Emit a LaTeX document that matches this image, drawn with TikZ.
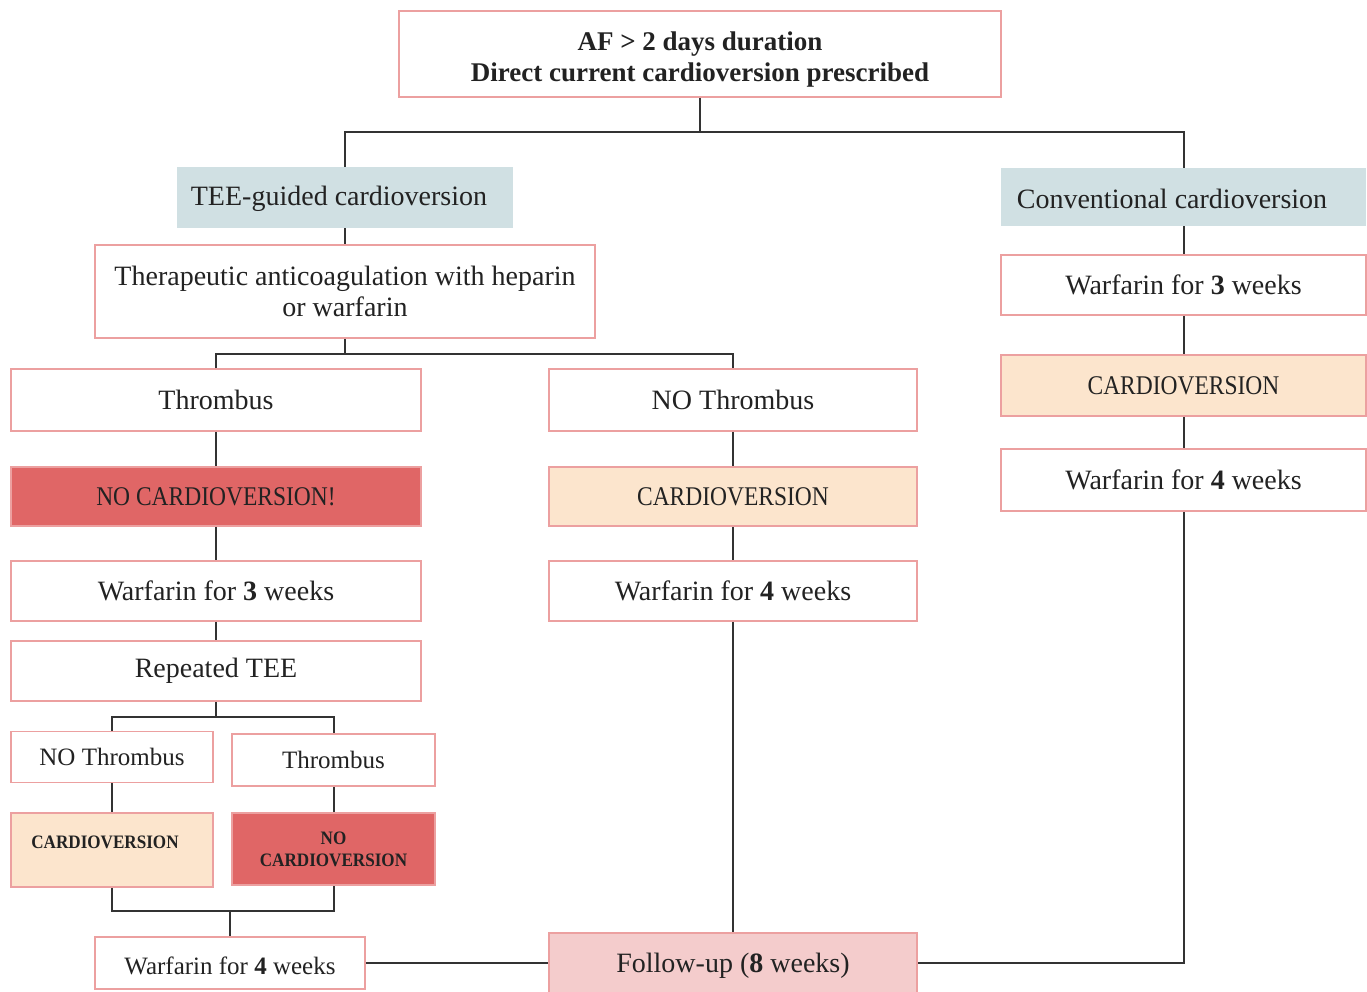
\documentclass[tikz,border=0pt]{standalone}
\usepackage{graphicx}
\usepackage{fontspec}
\setmainfont{Liberation Serif}
\definecolor{bordpink}{RGB}{236,160,160}
\definecolor{redfill}{RGB}{224,102,102}
\definecolor{peach}{RGB}{252,229,205}
\definecolor{fupink}{RGB}{244,204,204}
\definecolor{bluegrey}{RGB}{208,224,227}
\definecolor{linegrey}{RGB}{51,51,51}
\definecolor{txt}{RGB}{34,34,34}
\newcommand{\capstext}[1]{\scalebox{0.87}[1]{#1}}
\newcommand{\smallcaps}[1]{\scalebox{0.9}[1]{#1}}
\tikzset{
  base/.style={rectangle, inner sep=0pt, align=center, text=txt, font=\fontsize{28}{31}\selectfont},
  whitebox/.style={base, draw=bordpink, line width=1.5pt, fill=white},
  capsfont/.style={font=\fontsize{27}{30}\selectfont},
  smallbold/.style={font=\bfseries\fontsize{19}{22}\selectfont},
  redbox/.style={base, draw=bordpink, line width=1.5pt, fill=redfill},
  peachbox/.style={base, draw=bordpink, line width=1.5pt, fill=peach},
  fubox/.style={base, draw=bordpink, line width=1.5pt, fill=fupink},
  greybox/.style={base, fill=bluegrey},
  conn/.style={draw=linegrey, line width=2pt}
}
\begin{document}
\begin{tikzpicture}[x=1pt,y=-1pt]
\useasboundingbox (0,0) rectangle (1367,992);
% top
\node[whitebox, minimum width=602, minimum height=86] (top) at (700,54) {};
\node[base, font=\bfseries\fontsize{27}{31}\selectfont] (toptext) at (700,60) {AF > 2 days duration\\Direct current cardioversion prescribed};
\node[greybox, minimum width=336, minimum height=61] (tee) at (345,197.5) {};
\node[base] (teetext) at (339,199) {TEE-guided cardioversion};
\node[greybox, minimum width=365, minimum height=58] (conv) at (1183.5,197) {};
\node[base] (convtext) at (1172,199) {Conventional cardioversion};
% TEE branch
\node[whitebox, minimum width=500, minimum height=93] (ther) at (345,291.5) {Therapeutic anticoagulation with heparin\\or warfarin};
\node[whitebox, minimum width=410, minimum height=62] (thr) at (216,400) {Thrombus};
\node[whitebox, minimum width=368, minimum height=62] (nthr) at (733,400) {NO Thrombus};
\node[redbox, capsfont, minimum width=410, minimum height=59] (ncv) at (216,496.5) {\capstext{NO CARDIOVERSION!}};
\node[peachbox, capsfont, minimum width=368, minimum height=59] (cv) at (733,496.5) {\capstext{CARDIOVERSION}};
\node[whitebox, minimum width=410, minimum height=60] (lw3) at (216,591) {Warfarin for \textbf{3} weeks};
\node[whitebox, minimum width=368, minimum height=60] (mw4) at (733,591) {Warfarin for \textbf{4} weeks};
\node[whitebox, minimum width=410, minimum height=60] (rtee) at (216,671) {Repeated TEE};
\node[whitebox, minimum width=202, minimum height=51, font=\fontsize{25}{28}\selectfont] (snthr) at (112,757) {NO Thrombus};
\node[whitebox, minimum width=203, minimum height=52, font=\fontsize{25}{28}\selectfont] (sthr) at (333.5,760) {Thrombus};
\node[peachbox, minimum width=202, minimum height=74] (scv) at (112,850) {};
\node[base, smallbold] (scvt) at (105,842) {\smallcaps{CARDIOVERSION}};
\node[redbox, minimum width=203, minimum height=72, smallbold] (sncv) at (333.5,849) {\smallcaps{NO}\\\smallcaps{CARDIOVERSION}};
\node[whitebox, minimum width=270, minimum height=52] (lw4) at (230,963) {};
\node[base, font=\fontsize{25}{28}\selectfont] (lw4text) at (230,966) {Warfarin for \textbf{4} weeks};
\node[fubox, minimum width=368, minimum height=60] (fu) at (733,963) {};
\node[base] (futext) at (733,966) {Follow-up (\textbf{8} weeks)};
% right
\node[whitebox, minimum width=365, minimum height=60] (rw3) at (1183.5,285) {Warfarin for \textbf{3} weeks};
\node[peachbox, capsfont, minimum width=365, minimum height=61] (rcv) at (1183.5,385.5) {\capstext{CARDIOVERSION}};
\node[whitebox, minimum width=365, minimum height=62] (rw4) at (1183.5,480) {Warfarin for \textbf{4} weeks};
% connectors
\coordinate (t1) at (700,132);
\coordinate (b1) at (345,354);
\coordinate (b2) at (216,717);
\coordinate (j) at (230,911);
\draw[conn] (top.south) -- (t1);
\draw[conn] (tee.north) |- (t1) -| (conv.north);
\draw[conn] (tee.south) -- (ther.north);
\draw[conn] (ther.south) -- (b1);
\draw[conn] (thr.north) |- (b1) -| (nthr.north);
\draw[conn] (thr.south) -- (ncv.north);
\draw[conn] (ncv.south) -- (lw3.north);
\draw[conn] (lw3.south) -- (rtee.north);
\draw[conn] (rtee.south) -- (b2);
\draw[conn] (snthr.north) |- (b2) -| (sthr.north);
\draw[conn] (snthr.south) -- (scv.north);
\draw[conn] (sthr.south) -- (sncv.north);
\draw[conn] (scv.south) |- (j) -| (sncv.south);
\draw[conn] (j) -- (lw4.north);
\draw[conn] (lw4.east) -- (fu.west);
\draw[conn] (nthr.south) -- (cv.north);
\draw[conn] (cv.south) -- (mw4.north);
\draw[conn] (mw4.south) -- (fu.north);
\draw[conn] (conv.south) -- (rw3.north);
\draw[conn] (rw3.south) -- (rcv.north);
\draw[conn] (rcv.south) -- (rw4.north);
\draw[conn] (rw4.south) |- (fu.east);
\end{tikzpicture}
\end{document}
